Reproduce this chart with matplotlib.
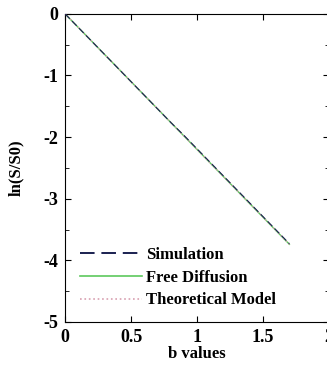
import matplotlib
matplotlib.use("Agg")
import matplotlib.pyplot as plt
from matplotlib.ticker import MultipleLocator

plt.rcParams["font.family"] = ["Liberation Serif", "DejaVu Serif"]
plt.rcParams["font.weight"] = "bold"
plt.rcParams["axes.unicode_minus"] = False

# --- data ------------------------------------------------------------
b_values = [0.0, 0.1, 0.2, 0.3, 0.4, 0.5, 0.6, 0.7, 0.8, 0.9,
            1.0, 1.1, 1.2, 1.3, 1.4, 1.5, 1.6, 1.7]
simulation = [0.0, -0.22, -0.44, -0.66, -0.88, -1.10, -1.32, -1.54, -1.76, -1.97,
              -2.19, -2.41, -2.63, -2.85, -3.07, -3.29, -3.51, -3.73]
free_diffusion = [0.0, -0.22, -0.44, -0.66, -0.88, -1.10, -1.32, -1.54, -1.76, -1.98,
                  -2.20, -2.42, -2.64, -2.86, -3.08, -3.30, -3.52, -3.74]
theoretical = [0.0, -0.22, -0.44, -0.66, -0.88, -1.10, -1.32, -1.54, -1.76, -1.98,
               -2.20, -2.42, -2.64, -2.86, -3.08, -3.30, -3.52, -3.74]

fig = plt.figure(figsize=(3.27, 3.65), dpi=100)
ax = fig.add_axes([0.199, 0.118, 0.807, 0.844])

ax.plot(b_values, free_diffusion, color="#5cc85c", lw=1.0, label="Free Diffusion", zorder=2)
ax.plot(b_values, theoretical, color="#d8a0b0", lw=1.0, ls=":", label="Theoretical Model", zorder=3)
ax.plot(b_values, simulation, color="#1a2050", lw=0.8, ls=(0, (6, 3)), label="Simulation", zorder=4)

ax.set_xlim(0, 2)
ax.set_ylim(-5, 0)
ax.xaxis.set_major_locator(MultipleLocator(0.5))
ax.yaxis.set_major_locator(MultipleLocator(1))
ax.yaxis.set_minor_locator(MultipleLocator(0.5))
ax.tick_params(direction="in", top=True, right=True, length=4, labelsize=13, pad=5)
ax.tick_params(which="minor", direction="in", left=True, right=True, length=3)
ax.set_xticks([0, 0.5, 1, 1.5, 2], ["0", "0.5", "1", "1.5", "2"])
for lab in ax.get_xticklabels() + ax.get_yticklabels():
    lab.set_fontweight("bold")

ax.set_xlabel("b values", fontsize=12, fontweight="bold", labelpad=0)
ax.set_ylabel("ln(S/S0)", fontsize=12, fontweight="bold", labelpad=14)

# legend handles drawn a bit heavier than the data lines, as in the source
h, l = ax.get_legend_handles_labels()
order = [2, 0, 1]
leg = ax.legend([h[i] for i in order], [l[i] for i in order], loc="lower left",
                bbox_to_anchor=(0.0, -0.005), frameon=False, handlelength=3.7,
                handletextpad=0.25, labelspacing=0.4, prop={"size": 12, "weight": "bold"})
styles = [(1.4, (0, (7.5, 3.5))), (1.2, "-"), (1.2, ":")]
for line, (lw, ls) in zip(leg.get_lines(), styles):
    line.set_linewidth(lw)
    line.set_linestyle(ls)

fig.savefig("out.png", dpi=100)
